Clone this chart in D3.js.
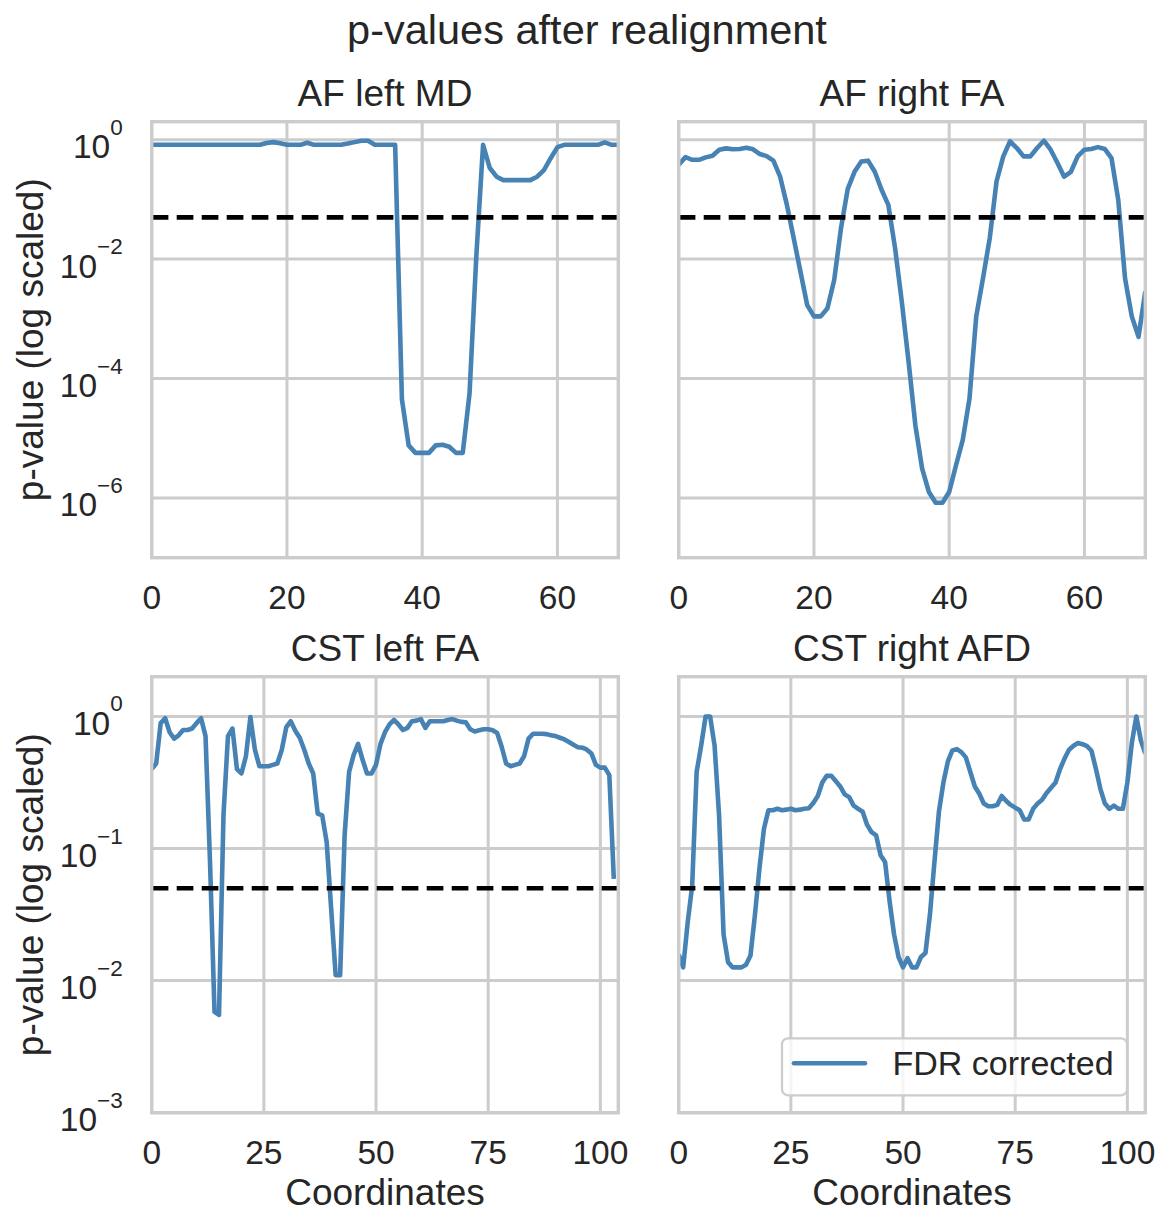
<!DOCTYPE html>
<html>
<head>
<meta charset="utf-8">
<script src="https://cdn.jsdelivr.net/npm/d3@7"></script>
<style>
  body { margin: 0; background: #fff; }
  svg text { font-family: "Liberation Sans", Arial, sans-serif; fill: #262626; }
</style>
</head>
<body>
<svg id="chart" width="1171" height="1227"></svg>
<script>
// p-values, one per coordinate (index = coordinate)
var afLeftMD = [
  0.82, 0.82, 0.82, 0.82, 0.82, 0.82, 0.82, 0.82, 0.82, 0.82,
  0.82, 0.82, 0.82, 0.82, 0.82, 0.82, 0.82, 0.88, 0.91, 0.87,
  0.82, 0.82, 0.82, 0.89, 0.82, 0.82, 0.82, 0.82, 0.82, 0.86,
  0.91, 0.96, 0.96, 0.82, 0.82, 0.82, 0.82, 4.5e-5, 7.6e-6, 5.7e-6,
  5.7e-6, 5.7e-6, 7.6e-6, 7.8e-6, 7.2e-6, 5.7e-6, 5.7e-6, 5.6e-5, 0.011, 0.82,
  0.335, 0.24, 0.21, 0.21, 0.21, 0.21, 0.21, 0.24, 0.31, 0.49,
  0.75, 0.82, 0.82, 0.82, 0.82, 0.82, 0.82, 0.9, 0.82, 0.82
];
var afRightFA = [
  0.38, 0.51, 0.46, 0.46, 0.505, 0.54, 0.68, 0.715, 0.69, 0.70,
  0.735, 0.69, 0.575, 0.53, 0.445, 0.24, 0.081, 0.0225, 0.0062, 0.0017,
  0.0011, 0.0011, 0.0015, 0.0045, 0.033, 0.15, 0.29, 0.43, 0.445, 0.29,
  0.145, 0.081, 0.0152, 0.0019, 1.9e-4, 1.65e-5, 3.1e-6, 1.26e-6, 8.3e-7, 8.3e-7,
  1.26e-6, 3.5e-6, 9.3e-6, 4.6e-5, 0.0011, 0.0048, 0.0225, 0.20, 0.525, 0.94,
  0.725, 0.525, 0.525, 0.725, 0.96, 0.68, 0.41, 0.24, 0.29, 0.525,
  0.68, 0.70, 0.75, 0.70, 0.49, 0.098, 0.0048, 0.0011, 5e-4, 0.0029
];
var cstLeftFA = [
  0.40, 0.44, 0.89, 0.97, 0.76, 0.68, 0.72, 0.79, 0.79, 0.81,
  0.89, 0.97, 0.71, 0.079, 0.0058, 0.0055, 0.18, 0.71, 0.81, 0.40,
  0.37, 0.50, 0.99, 0.56, 0.42, 0.42, 0.42, 0.43, 0.44, 0.56,
  0.83, 0.92, 0.78, 0.69, 0.56, 0.44, 0.37, 0.184, 0.178, 0.112,
  0.035, 0.011, 0.011, 0.126, 0.38, 0.51, 0.62, 0.47, 0.37, 0.37,
  0.43, 0.62, 0.76, 0.87, 0.94, 0.87, 0.79, 0.82, 0.92, 0.93,
  0.955, 0.82, 0.92, 0.92, 0.92, 0.92, 0.94, 0.955, 0.93, 0.91,
  0.905, 0.80, 0.77, 0.785, 0.80, 0.80, 0.785, 0.75, 0.59, 0.44,
  0.42, 0.43, 0.44, 0.50, 0.68, 0.74, 0.74, 0.74, 0.735, 0.72,
  0.71, 0.69, 0.67, 0.64, 0.61, 0.585, 0.58, 0.56, 0.525, 0.43,
  0.41, 0.41, 0.36, 0.059
];
var cstRightAFD = [
  0.0158, 0.0126, 0.0275, 0.052, 0.38, 0.60, 1.0, 1.0, 0.60, 0.178,
  0.0224, 0.0138, 0.0126, 0.0126, 0.0126, 0.0132, 0.0155, 0.0316, 0.071, 0.141,
  0.195, 0.195, 0.20, 0.195, 0.197, 0.20, 0.195, 0.197, 0.20, 0.202,
  0.221, 0.25, 0.316, 0.356, 0.355, 0.324, 0.295, 0.257, 0.245, 0.211,
  0.20, 0.19, 0.151, 0.133, 0.126, 0.089, 0.079, 0.040, 0.0224, 0.0151,
  0.0126, 0.0148, 0.0126, 0.0126, 0.0151, 0.0162, 0.0316, 0.079, 0.19, 0.316,
  0.457, 0.553, 0.566, 0.537, 0.49, 0.38, 0.295, 0.26, 0.219, 0.209,
  0.209, 0.214, 0.25, 0.229, 0.214, 0.204, 0.195, 0.166, 0.166, 0.20,
  0.219, 0.234, 0.263, 0.288, 0.316, 0.40, 0.48, 0.56, 0.60, 0.63,
  0.617, 0.596, 0.55, 0.40, 0.282, 0.219, 0.20, 0.211, 0.20, 0.20,
  0.316, 0.63, 1.0, 0.66, 0.525
];

var threshold = 0.05;
var titles = ['AF left MD', 'AF right FA', 'CST left FA', 'CST right AFD'];
var topXTicks = [0, 20, 40, 60];
var bottomXTicks = [0, 25, 50, 75, 100];
var topYTicks = [1, 1e-2, 1e-4, 1e-6];
var bottomYTicks = [1, 1e-1, 1e-2, 1e-3];
var legendLabel = 'FDR corrected';

var svg = d3.select('#chart'),
    lineColor = '#4682b4',
    gridColor = '#cccccc',
    colX = [151.7, 678.7],
    rowY = [121.7, 676.7],
    axW = 466.6,
    axH = 436;

var panels = [
  { title: titles[0], values: afLeftMD, col: 0, row: 0, xMax: 69, xTicks: topXTicks, yDomain: [1e-7, 2], yTicks: topYTicks },
  { title: titles[1], values: afRightFA, col: 1, row: 0, xMax: 69, xTicks: topXTicks, yDomain: [1e-7, 2], yTicks: topYTicks },
  { title: titles[2], values: cstLeftFA, col: 0, row: 1, xMax: 104, xTicks: bottomXTicks, yDomain: [1e-3, 2], yTicks: bottomYTicks },
  { title: titles[3], values: cstRightAFD, col: 1, row: 1, xMax: 104, xTicks: bottomXTicks, yDomain: [1e-3, 2], yTicks: bottomYTicks, legend: true }
];

svg.append('text')
  .attr('x', 587)
  .attr('y', 44)
  .attr('text-anchor', 'middle')
  .style('font-size', '41.5px')
  .text('p-values after realignment');

panels.forEach(function(p, i) {
  var left = colX[p.col], top = rowY[p.row];

  var x = d3.scaleLinear().domain([0, p.xMax]).range([0, axW]);
  var y = d3.scaleLog().domain(p.yDomain).range([axH, 0]);

  var g = svg.append('g').attr('transform', 'translate(' + left + ',' + top + ')');

  g.append('clipPath').attr('id', 'clip' + i)
    .append('rect').attr('width', axW).attr('height', axH);

  // grid
  g.selectAll('.vgrid').data(p.xTicks).enter().append('line')
    .attr('x1', function(d) { return x(d); })
    .attr('x2', function(d) { return x(d); })
    .attr('y1', 0).attr('y2', axH)
    .attr('stroke', gridColor).attr('stroke-width', 3);

  g.selectAll('.hgrid').data(p.yTicks).enter().append('line')
    .attr('x1', 0).attr('x2', axW)
    .attr('y1', function(d) { return y(d); })
    .attr('y2', function(d) { return y(d); })
    .attr('stroke', gridColor).attr('stroke-width', 3);

  var line = d3.line()
    .x(function(d, j) { return x(j); })
    .y(function(d) { return y(d); });

  var plot = g.append('g').attr('clip-path', 'url(#clip' + i + ')');

  plot.append('path')
    .datum(p.values)
    .attr('d', line)
    .attr('fill', 'none')
    .attr('stroke', lineColor)
    .attr('stroke-width', 4.6)
    .attr('stroke-linejoin', 'round');

  plot.append('line')
    .attr('x1', 0).attr('x2', axW)
    .attr('y1', y(threshold)).attr('y2', y(threshold))
    .attr('stroke', '#000')
    .attr('stroke-width', 4.6)
    .attr('stroke-dasharray', '16.7,8.3');

  // frame
  g.append('rect')
    .attr('width', axW).attr('height', axH)
    .attr('fill', 'none')
    .attr('stroke', gridColor)
    .attr('stroke-width', 3.4);

  g.append('text')
    .attr('x', axW / 2).attr('y', -16)
    .attr('text-anchor', 'middle')
    .style('font-size', '37px')
    .text(p.title);

  g.selectAll('.xlab').data(p.xTicks).enter().append('text')
    .attr('x', function(d) { return x(d); })
    .attr('y', axH + 51.5)
    .attr('text-anchor', 'middle')
    .style('font-size', '33.5px')
    .text(function(d) { return d; });

  if (p.col === 0) {
    var lab = g.selectAll('.ylab').data(p.yTicks).enter().append('text')
      .attr('x', -29)
      .attr('y', function(d) { return y(d) + 18.5; })
      .attr('text-anchor', 'end')
      .style('font-size', '33.5px');
    lab.append('tspan').text('10');
    lab.append('tspan')
      .attr('dy', -23.5)
      .style('font-size', '22.5px')
      .text(function(d) {
        var e = Math.round(Math.log10(d));
        return e < 0 ? '\u2212' + (-e) : String(e);
      });

    g.append('text')
      .attr('transform', 'translate(-109,' + (axH / 2) + ') rotate(-90)')
      .attr('text-anchor', 'middle')
      .style('font-size', '37px')
      .text('p-value (log scaled)');
  }

  if (p.row === 1) {
    g.append('text')
      .attr('x', axW / 2).attr('y', axH + 92.5)
      .attr('text-anchor', 'middle')
      .style('font-size', '37px')
      .text('Coordinates');
  }

  if (p.legend) {
    var lg = g.append('g').attr('transform', 'translate(' + (782 - left) + ',' + (1038.3 - top) + ')');
    lg.append('rect')
      .attr('width', 345).attr('height', 57)
      .attr('rx', 6)
      .attr('fill', '#fff').attr('fill-opacity', 0.8)
      .attr('stroke', gridColor).attr('stroke-width', 2.2);
    lg.append('line')
      .attr('x1', 12).attr('x2', 83)
      .attr('y1', 25).attr('y2', 25)
      .attr('stroke', lineColor).attr('stroke-width', 4.6)
      .attr('stroke-linecap', 'round');
    lg.append('text')
      .attr('x', 110.5).attr('y', 37)
      .style('font-size', '34px')
      .text(legendLabel);
  }
});
</script>
</body>
</html>
